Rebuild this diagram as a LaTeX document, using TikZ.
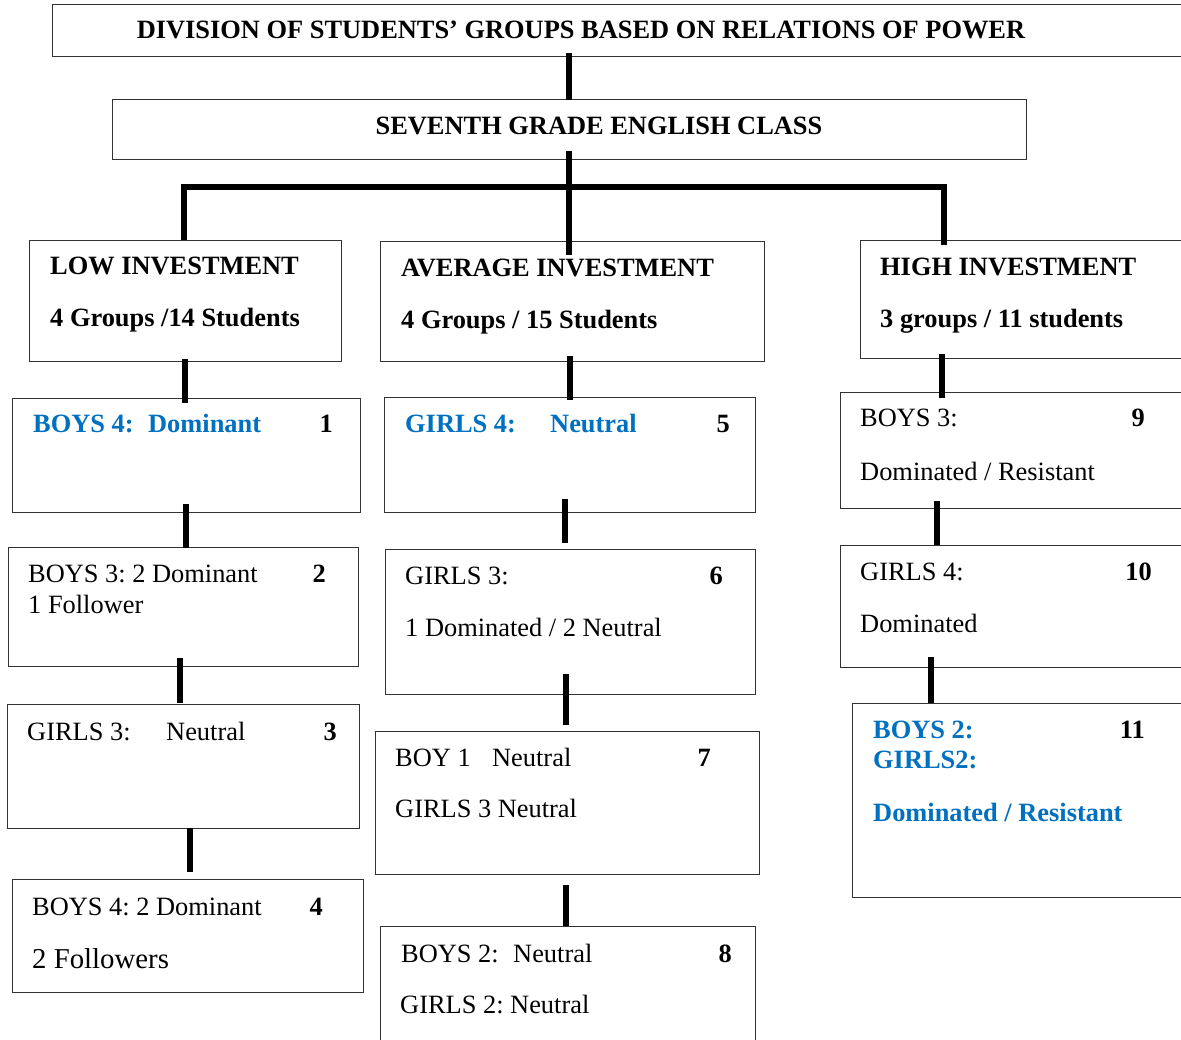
\documentclass[tikz,border=0pt]{standalone}
\usepackage{fontspec}
\setmainfont{Liberation Serif}
\frenchspacing
\definecolor{wordblue}{RGB}{0,112,192}
\definecolor{boxgray}{RGB}{50,50,50}
\begin{document}
\begin{tikzpicture}[x=1pt,y=-1pt,
  box/.style={draw=boxgray, line width=1.3pt, inner sep=0pt, anchor=north west},
  conn/.style={line width=5.5pt, black},
  txt/.style={inner sep=0pt, anchor=base west, font=\fontsize{26.4}{30}\selectfont\frenchspacing},
  num/.style={inner sep=0pt, anchor=base east, font=\fontsize{26.4}{30}\selectfont\bfseries},
  blu/.style={text=wordblue, font=\fontsize{26.4}{30}\selectfont\bfseries\frenchspacing}]
\useasboundingbox (0,0) rectangle (1181,1040);
\fill[white] (0,0) rectangle (1181,1040);
\clip (0,0) rectangle (1181,1040);
% boxes
\node[box, minimum width=1148pt, minimum height=52pt] (top) at (52,4) {};
\node[box, minimum width=914pt, minimum height=60pt] (seventh) at (112,99) {};
\node[box, minimum width=312pt, minimum height=121pt] (low) at (29,240) {};
\node[box, minimum width=384pt, minimum height=120pt] (avg) at (380,241) {};
\node[box, minimum width=340pt, minimum height=118pt] (high) at (860,240) {};
\node[box, minimum width=348pt, minimum height=114pt] (b1) at (12,398) {};
\node[box, minimum width=350pt, minimum height=119pt] (b2) at (8,547) {};
\node[box, minimum width=352pt, minimum height=124pt] (b3) at (7,704) {};
\node[box, minimum width=351pt, minimum height=113pt] (b4) at (12,879) {};
\node[box, minimum width=371pt, minimum height=115pt] (b5) at (384,397) {};
\node[box, minimum width=370pt, minimum height=145pt] (b6) at (385,549) {};
\node[box, minimum width=384pt, minimum height=143pt] (b7) at (375,731) {};
\node[box, minimum width=375pt, minimum height=134pt] (b8) at (380,926) {};
\node[box, minimum width=360pt, minimum height=116pt] (b9) at (840,392) {};
\node[box, minimum width=360pt, minimum height=122pt] (b10) at (840,545) {};
\node[box, minimum width=348pt, minimum height=194pt] (b11) at (852,703) {};
% texts
\node[txt, anchor=base, font=\fontsize{26.4}{30}\selectfont\bfseries] (ttop) at (581,39) {DIVISION OF STUDENTS’ GROUPS BASED ON RELATIONS OF POWER};
\node[txt, anchor=base, font=\fontsize{26.4}{30}\selectfont\bfseries] (tsev) at (599,135) {SEVENTH GRADE ENGLISH CLASS};
\node[txt, font=\fontsize{26.4}{30}\selectfont\bfseries] (tlow1) at (50,275) {LOW INVESTMENT};
\node[txt, font=\fontsize{26.4}{30}\selectfont\bfseries] (tlow2) at (50,327) {4 Groups /14 Students};
\node[txt, font=\fontsize{26.4}{30}\selectfont\bfseries] (tavg1) at (401,277) {AVERAGE INVESTMENT};
\node[txt, font=\fontsize{26.4}{30}\selectfont\bfseries] (tavg2) at (401,329) {4 Groups / 15 Students};
\node[txt, font=\fontsize{26.4}{30}\selectfont\bfseries] (thigh1) at (880,276) {HIGH INVESTMENT};
\node[txt, font=\fontsize{26.4}{30}\selectfont\bfseries] (thigh2) at (880,328) {3 groups / 11 students};
% column 1
\node[txt, blu] (t1) at (33,433) {\makebox[115pt][l]{BOYS 4:}Dominant};
\node[num] (n1) at (333,433) {1};
\node[txt] (t2a) at (28,582) {BOYS 3: 2 Dominant};
\node[txt] (t2b) at (28,613) {1 Follower};
\node[num] (n2) at (326,582) {2};
\node[txt] (t3) at (27,740) {\makebox[139pt][l]{GIRLS 3:}Neutral};
\node[num] (n3) at (337,740) {3};
\node[txt] (t4a) at (32,915) {BOYS 4: 2 Dominant};
\node[txt, font=\fontsize{28.8}{32}\selectfont] (t4b) at (32,968) {2 Followers};
\node[num] (n4) at (323,915) {4};
% column 2
\node[txt, blu] (t5) at (405,432) {\makebox[145pt][l]{GIRLS 4:}Neutral};
\node[num] (n5) at (730,432) {5};
\node[txt] (t6a) at (405,584) {GIRLS 3:};
\node[txt] (t6b) at (405,636) {1 Dominated / 2 Neutral};
\node[num] (n6) at (723,584) {6};
\node[txt] (t7a) at (395,766) {\makebox[97pt][l]{BOY 1}Neutral};
\node[txt] (t7b) at (395,817) {GIRLS 3 Neutral};
\node[num] (n7) at (711,766) {7};
\node[txt] (t8a) at (401,962) {\makebox[112pt][l]{BOYS 2:}Neutral};
\node[txt] (t8b) at (400,1013) {GIRLS 2: Neutral};
\node[num] (n8) at (732,962) {8};
% column 3
\node[txt] (t9a) at (860,427) {BOYS 3:};
\node[txt] (t9b) at (860,480) {Dominated / Resistant};
\node[num] (n9) at (1145,427) {9};
\node[txt] (t10a) at (860,580) {GIRLS 4:};
\node[txt] (t10b) at (860,632) {Dominated};
\node[num] (n10) at (1152,580) {10};
\node[txt, blu] (t11a) at (873,738) {BOYS 2:};
\node[txt, blu] (t11b) at (873,768) {GIRLS2:};
\node[txt, blu] (t11c) at (873,821) {Dominated / Resistant};
\node[num] (n11) at (1145,738) {11};
% connectors
\draw[conn, shorten <=-4pt, shorten >=-1pt] (569,0 |- top.south) -- (569,0 |- seventh.north);
\draw[conn, shorten <=-9pt, shorten >=-14pt] (569,0 |- seventh.south) -- (569,0 |- avg.north);
\coordinate (busL) at (184,187);
\coordinate (busR) at (944,187);
\draw[conn, line join=miter, shorten >=-5pt] (184,0 |- low.north) -- (busL) -- (busR) -- (944,0 |- high.north);
\draw[conn, shorten <=-3pt, shorten >=-5pt] (185,0 |- low.south) -- (185,0 |- b1.north);
\draw[conn, shorten <=-6pt, shorten >=-3pt] (570,0 |- avg.south) -- (570,0 |- b5.north);
\draw[conn, shorten <=-5pt, shorten >=-6pt] (942,0 |- high.south) -- (942,0 |- b9.north);
\draw[conn, shorten <=-9pt, shorten >=-1pt] (186,0 |- b1.south) -- (186,0 |- b2.north);
\draw[conn, shorten <=-9pt, shorten >=1pt] (180,0 |- b2.south) -- (180,0 |- b3.north);
\draw[conn, shorten <=-1pt, shorten >=7pt] (190,0 |- b3.south) -- (190,0 |- b4.north);
\draw[conn, shorten <=-14pt, shorten >=6pt] (565,0 |- b5.south) -- (565,0 |- b6.north);
\draw[conn, shorten <=-21pt, shorten >=6pt] (566,0 |- b6.south) -- (566,0 |- b7.north);
\draw[conn, shorten <=10pt] (566,0 |- b7.south) -- (566,0 |- b8.north);
\draw[conn, shorten <=-8pt] (937,0 |- b9.south) -- (937,0 |- b10.north);
\draw[conn, shorten <=-11pt] (931,0 |- b10.south) -- (931,0 |- b11.north);
\end{tikzpicture}
\end{document}
